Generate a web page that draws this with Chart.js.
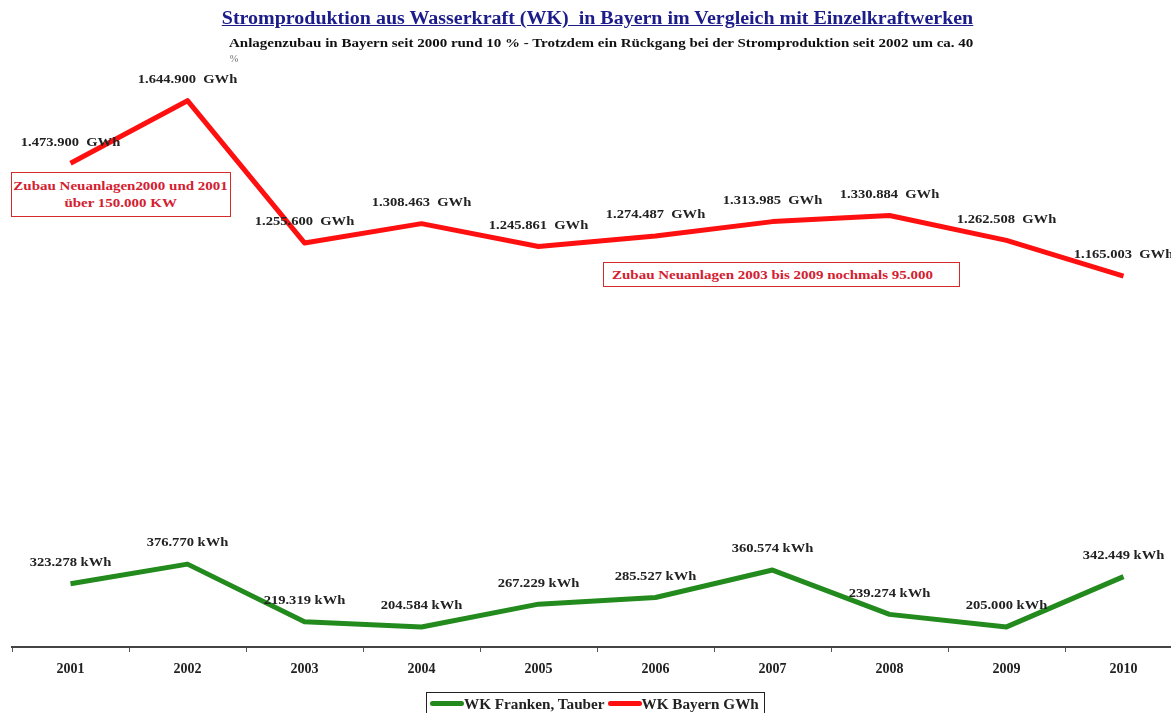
<!DOCTYPE html>
<html>
<head>
<meta charset="utf-8">
<script src="https://cdn.jsdelivr.net/npm/chart.js@4"></script>
<style>
  html, body { margin: 0; padding: 0; background: #fff; }
  body { width: 1171px; height: 713px; overflow: hidden; position: relative; font-family: "Liberation Serif", "DejaVu Serif", serif; }
  #wrap { position: absolute; left: 0; top: 0; width: 1182px; height: 713px; }
  .sx { display: inline-block; transform: scaleX(1.11); }
  #title { position: absolute; left: 0; width: 1194px; top: 8px; text-align: center; font-weight: bold; font-size: 18px; color: #1c1c8a; white-space: nowrap; }
  #title .sx { text-decoration: underline; transform-origin: center; }
  #subtitle { position: absolute; left: 229px; top: 33px; font-weight: bold; font-size: 13.5px; line-height: 19px; color: #111; white-space: nowrap; }
  #subtitle .sx { transform-origin: left; }
  #subtitle .pct { display: inline-block; opacity: 0.5; font-size: 10px; transform: translateY(-4px); }
  .note { position: absolute; border: 1px solid #d42a2a; background: #fff; color: #d42030; font-weight: bold; font-size: 13.5px; line-height: 17px; white-space: nowrap; }
  #note1 { left: 11px; top: 172px; width: 220px; height: 45px; text-align: center; padding-top: 4px; box-sizing: border-box; }
  #note1 .sx { transform-origin: center; }
  #note2 { left: 603px; top: 262px; width: 357px; height: 25px; padding: 3px 0 0 8px; box-sizing: border-box; }
  #note2 .sx { transform-origin: left; }
  #legend { position: absolute; left: 426px; top: 692px; width: 339px; height: 30px; border: 1px solid #222; box-sizing: border-box; font-weight: bold; font-size: 15.2px; color: #222; padding: 2px 0 0 3px; white-space: nowrap; }
  #legend .item { display: inline-block; vertical-align: top; margin-right: 3px; }
  #legend .sw { display: inline-block; width: 34px; height: 5px; border-radius: 3px; vertical-align: middle; position: relative; top: -2px; }
</style>
</head>
<body>
<div id="wrap"><canvas id="c" width="1182" height="713"></canvas></div>
<div id="title"><span class="sx">Stromproduktion aus Wasserkraft (WK)&nbsp; in Bayern im Vergleich mit Einzelkraftwerken</span></div>
<div id="subtitle"><span class="sx">Anlagenzubau in Bayern seit 2000 rund 10 % - Trotzdem ein Rückgang bei der Stromproduktion seit 2002 um ca. 40</span><br><span class="pct">%</span></div>
<div class="note" id="note1"><span class="sx">Zubau Neuanlagen2000 und 2001</span><br><span class="sx">über 150.000 KW</span></div>
<div class="note" id="note2"><span class="sx">Zubau Neuanlagen 2003 bis 2009 nochmals 95.000</span></div>
<div id="legend"></div>
<script>
const years = ['2001','2002','2003','2004','2005','2006','2007','2008','2009','2010'];
const frankenValues = [323.278, 376.770, 219.319, 204.584, 267.229, 285.527, 360.574, 239.274, 205.000, 342.449];
const bayernValues = [1473.900, 1644.900, 1255.600, 1308.463, 1245.861, 1274.487, 1313.985, 1330.884, 1262.508, 1165.003];
const frankenLabels = ['323.278 kWh','376.770 kWh','219.319 kWh','204.584 kWh','267.229 kWh','285.527 kWh','360.574 kWh','239.274 kWh','205.000 kWh','342.449 kWh'];
const bayernLabels = ['1.473.900  GWh','1.644.900  GWh','1.255.600  GWh','1.308.463  GWh','1.245.861  GWh','1.274.487  GWh','1.313.985  GWh','1.330.884  GWh','1.262.508  GWh','1.165.003  GWh'];
const seriesNames = ['WK Franken, Tauber', 'WK Bayern GWh'];

const GREEN = '#238a1d';
const RED = '#ff1010';

const labelPlugin = {
  id: 'pointLabels',
  afterDatasetsDraw(chart) {
    const ctx = chart.ctx;
    ctx.save();
    ctx.font = 'bold 13px "Liberation Serif", serif';
    ctx.fillStyle = '#222';
    ctx.textAlign = 'center';
    ctx.textBaseline = 'middle';
    chart.data.datasets.forEach((ds, di) => {
      const meta = chart.getDatasetMeta(di);
      meta.data.forEach((pt, i) => {
        ctx.save();
        ctx.translate(pt.x, pt.y - 21);
        ctx.scale(1.12, 1);
        ctx.fillText(ds.valueLabels[i], 0, 0);
        ctx.restore();
      });
    });
    ctx.restore();
  }
};

const chart = new Chart(document.getElementById('c'), {
  type: 'line',
  data: {
    labels: years,
    datasets: [
      { label: seriesNames[0], data: frankenValues, valueLabels: frankenLabels, borderColor: GREEN, backgroundColor: GREEN, borderWidth: 5, pointRadius: 0, tension: 0, borderJoinStyle: 'round' },
      { label: seriesNames[1], data: bayernValues, valueLabels: bayernLabels, borderColor: RED, backgroundColor: RED, borderWidth: 5, pointRadius: 0, tension: 0, borderJoinStyle: 'round' }
    ]
  },
  options: {
    responsive: false,
    animation: false,
    events: [],
    layout: { padding: { left: 12, right: 0, top: 44, bottom: 0 } },
    plugins: {
      legend: { display: false },
      title: { display: false },
      tooltip: { enabled: false }
    },
    scales: {
      x: {
        offset: true,
        afterFit(scale) { scale.height = 66; },
        grid: { offset: true, drawOnChartArea: false, drawTicks: true, tickLength: 5, color: '#555', lineWidth: 1 },
        border: { display: true, color: '#444', width: 2 },
        ticks: { padding: 9, color: '#222', font: { family: '"Liberation Serif", serif', weight: 'bold', size: 14 }, maxRotation: 0 }
      },
      y: { display: false, min: 150, max: 1800 }
    }
  },
  plugins: [labelPlugin]
});

const legend = document.getElementById('legend');
chart.data.datasets.forEach(ds => {
  const item = document.createElement('span');
  item.className = 'item';
  const sw = document.createElement('span');
  sw.className = 'sw';
  sw.style.background = ds.borderColor;
  item.appendChild(sw);
  item.appendChild(document.createTextNode(ds.label));
  legend.appendChild(item);
});
</script>
</body>
</html>
